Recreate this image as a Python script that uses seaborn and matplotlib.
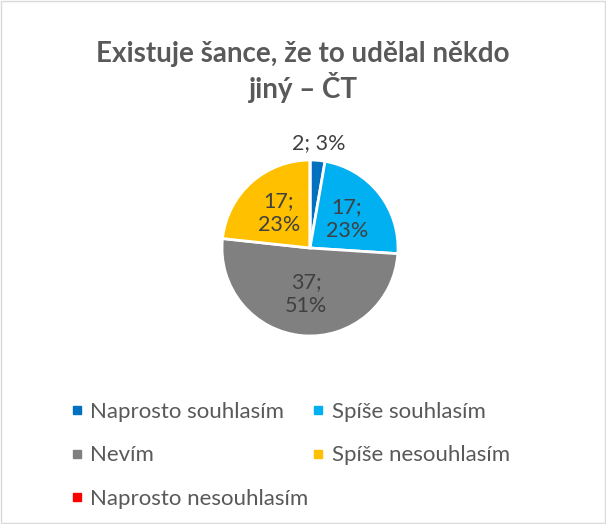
import numpy as np
import seaborn as sns
import matplotlib.pyplot as plt
from matplotlib.lines import Line2D
from matplotlib.patches import Rectangle

categories = ["Naprosto souhlasím", "Spíše souhlasím", "Nevím",
              "Spíše nesouhlasím", "Naprosto nesouhlasím"]
counts = [2, 17, 37, 17, 0]
colors = ["#0070C0", "#00B0F0", "#808080", "#FFC000", "#FF0000"]
title = "Existuje šance, že to udělal někdo\njiný – ČT"

sns.set_theme(style="white")
plt.rcParams['font.family'] = ['Lato', 'DejaVu Sans']

fig = plt.figure(figsize=(6.06, 5.24), dpi=100)
fig.patch.set_facecolor("white")
fig.patches.append(Rectangle((0.002, 0.002), 0.996, 0.996, transform=fig.transFigure,
                             fill=False, edgecolor="#D9D9D9", linewidth=1))

fig.text(0.5, 0.862, title, ha="center", va="center", fontsize=20,
         fontweight="bold", color="#595959", linespacing=1.2)

# pie axes: center ~ (310, 248) px, radius ~ 88 px
ax = fig.add_axes([222 / 606, 188 / 524, 176 / 606, 176 / 524])
wedges, _ = ax.pie(counts, colors=colors, startangle=90, counterclock=False,
                   wedgeprops=dict(edgecolor="white", linewidth=2))
ax.set_xlim(-1, 1)
ax.set_ylim(-1, 1)
ax.set_aspect("equal")
ax.axis("off")

total = sum(counts)
for w, n in zip(wedges, counts):
    if n == 0:
        continue
    pct = round(n / total * 100)
    ang = np.deg2rad((w.theta1 + w.theta2) / 2)
    if n / total < 0.05:
        r = 1.2
        txt = f"{n}; {pct}%"
    else:
        r = 0.53
        txt = f"{n};\n{pct}%"
    ax.text(r * np.cos(ang), r * np.sin(ang), txt, ha="center", va="center",
            fontsize=15.5, color="#404040", linespacing=1.25)

# legend is filled column by column, so reorder to read row by row
order = [0, 2, 4, 1, 3]
handles = [Line2D([], [], marker="s", linestyle="", markersize=6,
                  markerfacecolor=colors[i], markeredgecolor=colors[i]) for i in order]
fig.legend(handles, [categories[i] for i in order], ncol=2, loc="upper left",
           bbox_to_anchor=(50 / 606, 1 - 382 / 524), frameon=False,
           fontsize=16, labelcolor="#595959", handlelength=0.6,
           handletextpad=0.3, columnspacing=0.15, labelspacing=1.05)

fig.savefig("out.png", dpi=100)
